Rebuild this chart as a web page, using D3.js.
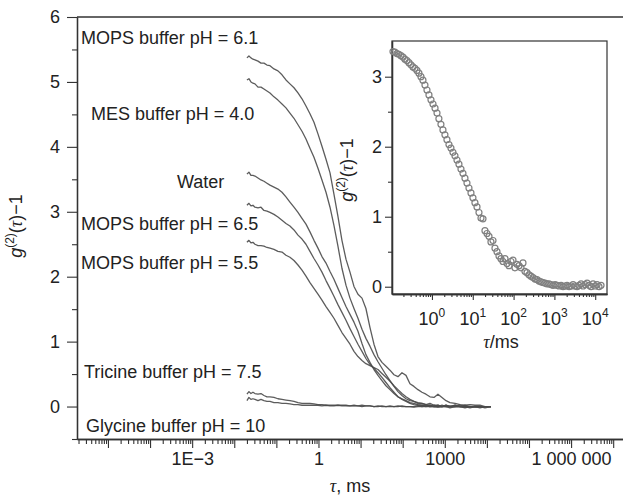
<!DOCTYPE html>
<html><head><meta charset="utf-8">
<script src="https://cdn.jsdelivr.net/npm/d3@7"></script>
<style>
body{margin:0;background:#fff}
svg{display:block}
text{font-family:"Liberation Sans",Arial,Helvetica,sans-serif;fill:#222}
</style>
</head><body><svg id="c" width="623" height="504"></svg>
<script>
// ---------- main plot data (lag time τ in ms, g2(τ)-1) ----------
const tauMain = [0.0200,0.0223,0.0249,0.0278,0.0310,0.0366,0.0431,0.0507,0.0598,0.0705,
  0.0877,0.109,0.136,0.169,0.210,0.262,0.326,0.406,0.505,0.628,
  0.782,0.973,1.21,1.51,1.88,2.33,2.90,3.61,4.50,5.60,
  6.97,8.67,10.8,13.4,16.7,20.8,25.9,32.2,40.1,49.9,
  62.1,77.3,96.2,120,149,185,231,287,357,445,
  554,689,858,1070,1330,
  1750,2300,3020,3970,5210,6860,9020,12500];

const mops61 = [5.37,5.40,5.37,5.35,5.34,5.32,5.29,5.29,5.26,5.25,
  5.20,5.17,5.11,5.03,4.97,4.91,4.83,4.74,4.63,4.51,
  4.38,4.20,4.01,3.81,3.60,3.27,2.93,2.56,2.27,2.07,
  1.85,1.73,1.67,1.51,1.22,0.96,0.77,0.68,0.62,0.56,
  0.49,0.46,0.52,0.48,0.35,0.31,0.26,0.22,0.19,0.15,
  0.14,0.19,0.14,0.09,0.06,
  0.05,0.03,0.02,0.03,0.02,0.02,0.00,0.00];
const mes40 = [5.03,5.05,5.00,4.98,4.97,4.92,4.92,4.89,4.86,4.83,
  4.77,4.72,4.66,4.60,4.52,4.44,4.34,4.24,4.12,3.98,
  3.84,3.67,3.49,3.30,3.07,2.79,2.47,2.13,1.87,1.67,
  1.51,1.36,1.19,1.05,0.93,0.80,0.69,0.59,0.49,0.40,
  0.31,0.23,0.17,0.12,0.09,0.08,0.05,0.05,0.03,0.05,
  0.02,0.02,0.00,0.02,0.00,
  0.02,0.00,-0.02,0.00,0.00,-0.02,0.00,0.00];
const water = [3.58,3.61,3.56,3.56,3.55,3.52,3.49,3.47,3.44,3.41,
  3.38,3.35,3.30,3.23,3.15,3.07,2.99,2.90,2.81,2.69,
  2.56,2.44,2.31,2.21,2.08,1.96,1.82,1.68,1.54,1.42,
  1.30,1.16,0.97,0.80,0.68,0.57,0.48,0.40,0.32,0.26,
  0.20,0.15,0.12,0.09,0.06,0.05,0.03,0.02,0.02,0.00,
  0.02,0.00,0.00,0.02,0.00,
  0.00,0.02,0.00,0.00,0.00,0.00,0.00,0.00];
const mops65 = [3.10,3.13,3.09,3.10,3.07,3.06,3.07,3.02,3.01,2.99,
  2.96,2.92,2.87,2.82,2.78,2.72,2.64,2.58,2.50,2.39,
  2.28,2.18,2.07,1.94,1.82,1.70,1.57,1.45,1.33,1.20,
  1.08,0.96,0.85,0.74,0.65,0.59,0.52,0.45,0.37,0.29,
  0.22,0.15,0.11,0.08,0.05,0.03,0.02,0.02,0.00,0.02,
  0.00,0.00,0.02,0.00,0.00,
  0.02,0.00,0.00,-0.02,0.00,0.00,0.00,0.00];
const mops55 = [2.53,2.56,2.52,2.53,2.50,2.48,2.48,2.47,2.45,2.44,
  2.42,2.39,2.38,2.33,2.30,2.25,2.18,2.10,2.01,1.91,
  1.82,1.73,1.64,1.54,1.45,1.36,1.25,1.14,1.05,0.96,
  0.85,0.77,0.71,0.66,0.63,0.60,0.57,0.51,0.45,0.39,
  0.32,0.26,0.20,0.15,0.11,0.08,0.06,0.05,0.03,0.02,
  0.00,0.02,0.00,0.00,-0.02,
  0.00,0.00,0.02,0.00,0.00,0.00,-0.02,0.00];
const tricine75 = [0.19,0.23,0.20,0.22,0.20,0.19,0.20,0.17,0.15,0.15,
  0.14,0.12,0.11,0.10,0.09,0.08,0.06,0.05,0.05,0.05,
  0.04,0.03,0.03,0.02,0.02,0.02,0.02,0.02,0.02,0.01,
  0.02,0.01,0.02,0.01,0.01,0.00,0.01,0.00,0.00,0.01,
  0.00,0.00,0.01,0.00,0.00,-0.01,0.00,0.00,0.01,0.00,
  0.00,-0.01,0.00,0.00,0.01,
  0.00,0.00,-0.01,0.00,0.00,0.00,0.00,0.00];
const glycine10 = [0.09,0.14,0.11,0.12,0.11,0.09,0.11,0.09,0.08,0.08,
  0.06,0.06,0.05,0.05,0.04,0.03,0.03,0.02,0.02,0.02,
  0.02,0.02,0.01,0.02,0.01,0.01,0.02,0.01,0.01,0.01,
  0.01,0.01,0.00,0.01,0.01,0.00,0.00,0.01,0.00,0.00,
  0.00,0.01,0.00,0.00,0.00,0.00,0.01,0.00,0.00,0.00,
  0.00,0.00,0.00,0.01,0.00,
  0.00,0.00,0.00,0.00,-0.01,0.00,0.00,0.00];

const seriesNames = ["MOPS buffer pH = 6.1","MES buffer pH = 4.0","Water","MOPS buffer pH = 6.5",
  "MOPS buffer pH = 5.5","Tricine buffer pH = 7.5","Glycine buffer pH = 10"];
const seriesValues = [mops61, mes40, water, mops65, mops55, tricine75, glycine10];

// axis tick labels
const mainXLabelExp = [-3, 0, 3, 6];
const mainXLabelText = ["1E\u22123", "1", "1000", "1 000 000"];
const mainYLabels = [0,1,2,3,4,5,6];
const mainYMinor = [-0.5,0.5,1.5,2.5,3.5,4.5,5.5];

// ---------- inset data ----------
const tauInset = [0.111,0.124,0.139,0.155,0.174,0.195,0.218,0.244,0.273,0.306,
  0.342,0.383,0.429,0.480,0.538,0.602,0.674,0.755,0.845,0.946,
  1.06,1.19,1.33,1.48,1.66,1.86,2.08,2.33,2.61,2.92,
  3.27,3.66,4.10,4.59,5.14,5.75,6.44,7.21,8.07,9.04,
  10.1,11.3,12.7,14.2,15.9,17.8,19.9,22.3,25.0,27.9,
  31.3,35.0,39.2,43.9,49.1,55.0,61.6,68.9,77.2,86.4,
  96.7,108,121,136,152,170,190,213,239,267,
  299,335,375,420,470,526,589,660,739,827,
  926,1040,1160,1300,1460,1630,1830,2040,2290,2560,
  2870,3210,3590,4020,4500,5040,5650,6320,7080,7920,
  8870,9930,11100,12400,13900];
const gInset = [3.36,3.35,3.33,3.32,3.30,3.28,3.25,3.23,3.20,3.17,
  3.14,3.12,3.09,3.05,3.00,2.95,2.88,2.81,2.74,2.67,
  2.61,2.55,2.48,2.40,2.32,2.24,2.17,2.10,2.03,1.98,
  1.92,1.87,1.81,1.75,1.68,1.62,1.55,1.48,1.41,1.34,
  1.27,1.20,1.14,1.06,0.98,0.97,0.80,0.76,0.72,0.64,
  0.66,0.55,0.50,0.44,0.40,0.36,0.40,0.33,0.30,0.36,
  0.38,0.27,0.32,0.30,0.27,0.34,0.22,0.20,0.17,0.15,
  0.13,0.11,0.10,0.08,0.07,0.06,0.05,0.04,0.04,0.03,
  0.02,0.03,0.02,0.01,0.02,0.00,0.01,0.02,0.00,0.01,
  0.03,0.01,0.00,0.02,0.04,0.01,0.03,0.05,0.02,0.00,
  0.04,0.01,0.03,0.00,0.02];
const insetYLabels = [0,1,2,3];
const insetYMinor = [0.5,1.5,2.5];
const insetXLabelExp = [0,1,2,3,4];

// ---------- drawing ----------
const svg = d3.select("#c");
const FS = 18;
const FONT = "'Liberation Sans',Arial,Helvetica,sans-serif";
function styleAxis(g) {
  g.attr("font-size", FS).attr("font-family", FONT);
  g.select(".domain").attr("stroke", "#333").attr("stroke-width", 1.3);
  g.selectAll(".tick line").attr("stroke", "#333").attr("stroke-width", 1.1);
  g.selectAll(".tick text").attr("fill", "#222");
}

const x = d3.scaleLog().domain([1.84e-6, 1.71e7]).range([77, 623]);
const y = d3.scaleLinear().domain([-0.5, 6]).range([439, 17]);

// top frame line
svg.append("line").attr("x1", 77).attr("x2", 623).attr("y1", 17).attr("y2", 17)
  .attr("stroke", "#333").attr("stroke-width", 1.3);

// y axis
svg.append("g").attr("transform", "translate(77,0)")
  .call(d3.axisLeft(y).tickValues(mainYLabels).tickSize(10).tickSizeOuter(0).tickPadding(7).tickFormat(d3.format("d")))
  .call(styleAxis);
svg.append("g").attr("transform", "translate(77,0)")
  .call(d3.axisLeft(y).tickValues(mainYMinor).tickSize(5).tickSizeOuter(0).tickFormat(""))
  .call(styleAxis);

// x axis
const allTicks = x.ticks(20);
const decades = allTicks.filter(d => Math.abs(Math.log10(d) - Math.round(Math.log10(d))) < 1e-9);
const minors = allTicks.filter(d => decades.indexOf(d) < 0);
const labelFor = d => {
  const k = mainXLabelExp.indexOf(Math.round(Math.log10(d)));
  return k >= 0 ? mainXLabelText[k] : "";
};
svg.append("g").attr("transform", "translate(0,439)")
  .call(d3.axisBottom(x).tickValues(decades).tickSize(9).tickSizeOuter(0).tickPadding(4).tickFormat(labelFor))
  .call(styleAxis);
svg.append("g").attr("transform", "translate(0,439)")
  .call(d3.axisBottom(x).tickValues(minors).tickSize(5).tickSizeOuter(0).tickFormat(""))
  .call(styleAxis);

// curves
const line = d3.line().x(d => x(d[0])).y(d => y(d[1]));
seriesValues.forEach((vals) => {
  const pts = tauMain.map((t, i) => [t, vals[i]]);
  svg.append("path").datum(pts).attr("d", line)
    .attr("fill", "none").attr("stroke", "#4a4a4a").attr("stroke-width", 1.3)
    .attr("stroke-linejoin", "round").attr("stroke-opacity", 0.9);
});

// curve labels (layout only)
const labelPos = [[81, 43.5], [91, 120], [177, 187.5], [81, 230], [81, 268.5], [84, 377.5], [86, 431.5]];
seriesNames.forEach((n, i) => {
  svg.append("text").attr("x", labelPos[i][0]).attr("y", labelPos[i][1])
    .attr("font-size", FS).text(n);
});

// axis titles
function gLabel(sel) {
  sel.append("tspan").attr("font-style", "italic").text("g");
  sel.append("tspan").attr("font-size", 12).attr("dy", -8).text("(2)");
  sel.append("tspan").attr("dy", 8).text("(");
  sel.append("tspan").attr("font-style", "italic").attr("font-family", "'Liberation Serif',serif").text("\u03c4");
  sel.append("tspan").text(")\u22121");
}
svg.append("text").attr("transform", "translate(22,226) rotate(-90)")
  .attr("text-anchor", "middle").attr("font-size", FS).call(gLabel);

const xt = svg.append("text").attr("x", 350).attr("y", 492)
  .attr("text-anchor", "middle").attr("font-size", FS);
xt.append("tspan").attr("font-style", "italic").attr("font-family", "'Liberation Serif',serif").text("\u03c4");
xt.append("tspan").text(", ms");

// ---------- inset ----------
const xi = d3.scaleLog().domain([0.105, 19450]).range([392, 607]);
const yi = d3.scaleLinear().domain([-0.104, 3.51]).range([294, 41]);

svg.append("rect").attr("x", 392).attr("y", 41).attr("width", 215).attr("height", 253)
  .attr("fill", "#fff").attr("stroke", "#333").attr("stroke-width", 1.2);

const ig = svg.append("g");
ig.append("g").attr("transform", "translate(392,0)")
  .call(d3.axisLeft(yi).tickValues(insetYLabels).tickSize(7).tickSizeOuter(0).tickPadding(3).tickFormat(d3.format("d")))
  .call(styleAxis);
ig.append("g").attr("transform", "translate(392,0)")
  .call(d3.axisLeft(yi).tickValues(insetYMinor).tickSize(4).tickSizeOuter(0).tickFormat(""))
  .call(styleAxis);

const iTicks = xi.ticks(20);
const iDec = iTicks.filter(d => Math.abs(Math.log10(d) - Math.round(Math.log10(d))) < 1e-9);
const iMin = iTicks.filter(d => iDec.indexOf(d) < 0);
ig.append("g").attr("transform", "translate(0,294)")
  .call(d3.axisBottom(xi).tickValues(iDec).tickSize(6).tickSizeOuter(0).tickFormat(""))
  .call(styleAxis);
ig.append("g").attr("transform", "translate(0,294)")
  .call(d3.axisBottom(xi).tickValues(iMin).tickSize(3).tickSizeOuter(0).tickFormat(""))
  .call(styleAxis);

insetXLabelExp.forEach(e => {
  const t = ig.append("text").attr("x", xi(Math.pow(10, e))).attr("y", 325)
    .attr("text-anchor", "middle").attr("font-size", FS);
  t.append("tspan").text("10");
  t.append("tspan").attr("font-size", 12).attr("dy", -8).text(String(e));
});

ig.append("text").attr("transform", "translate(353,170) rotate(-90)")
  .attr("text-anchor", "middle").attr("font-size", FS).call(gLabel);

const ixt = ig.append("text").attr("x", 501).attr("y", 348)
  .attr("text-anchor", "middle").attr("font-size", FS);
ixt.append("tspan").attr("font-style", "italic").attr("font-family", "'Liberation Serif',serif").text("\u03c4");
ixt.append("tspan").text("/ms");

ig.append("g").selectAll("circle")
  .data(tauInset.map((t, i) => [t, gInset[i]]))
  .join("circle")
  .attr("cx", d => xi(d[0])).attr("cy", d => yi(d[1])).attr("r", 3)
  .attr("fill", "none").attr("stroke", "#808080").attr("stroke-width", 1.2);
</script>
</body></html>
